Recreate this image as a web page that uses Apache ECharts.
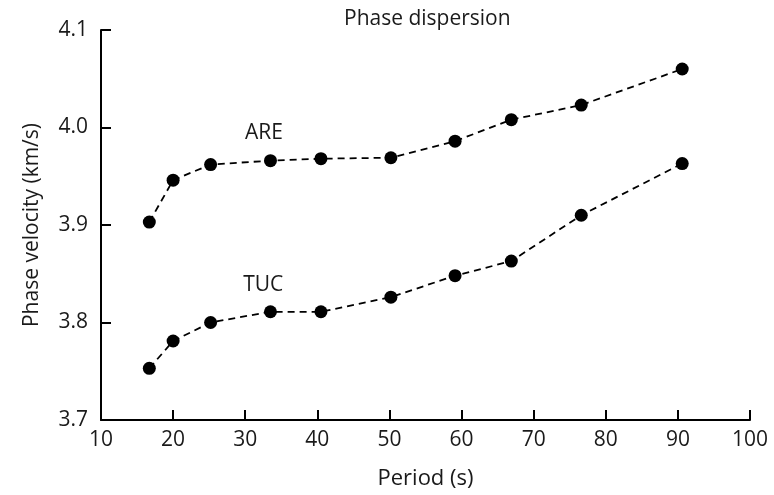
<!DOCTYPE html>
<html>
<head>
<meta charset="utf-8">
<script src="https://cdn.jsdelivr.net/npm/echarts@6/dist/echarts.min.js"></script>
<style>
  html, body { margin: 0; padding: 0; background: #fff; }
  #chart { width: 774px; height: 495px; }
</style>
</head>
<body>
<div id="chart"></div>
<script>
const periods = [16.7, 20.0, 25.2, 33.5, 40.5, 50.2, 59.1, 66.9, 76.6, 90.6];
const areVel = [3.903, 3.946, 3.962, 3.966, 3.968, 3.969, 3.986, 4.008, 4.023, 4.060];
const tucVel = [3.753, 3.781, 3.800, 3.811, 3.811, 3.826, 3.848, 3.863, 3.910, 3.963];
const areLabelAt = [32.6, 3.994];
const tucLabelAt = [32.5, 3.838];

const font = 'Open Sans';
const ink = '#1a1a1a';

function pairs(xs, ys) {
    return xs.map((x, i) => [x, ys[i]]);
}

function station(name, ys, labelAt) {
    return {
        name: name,
        type: 'line',
        data: pairs(periods, ys),
        symbol: 'circle',
        symbolSize: 13,
        itemStyle: { color: '#000' },
        lineStyle: { color: '#000', width: 1.8, type: [7, 5] },
        markPoint: {
            symbol: 'circle',
            symbolSize: 2,
            itemStyle: { color: 'rgba(0,0,0,0)' },
            data: [{ coord: labelAt, value: name }],
            label: {
                show: true,
                position: 'inside',
                formatter: name,
                fontFamily: font,
                fontSize: 21,
                color: ink
            }
        },
        animation: false
    };
}

const chart = echarts.init(document.getElementById('chart'));
chart.setOption({
    backgroundColor: '#fff',
    title: {
        text: 'Phase dispersion',
        left: 339,
        top: 4,
        textStyle: { fontFamily: font, fontSize: 21, fontWeight: 'normal', color: ink }
    },
    grid: { left: 101, right: 24, top: 30, bottom: 72 },
    xAxis: {
        type: 'value',
        min: 10,
        max: 100,
        interval: 10,
        name: 'Period (s)',
        nameLocation: 'middle',
        nameGap: 48,
        nameTextStyle: { fontFamily: font, fontSize: 22, color: ink },
        axisLine: { lineStyle: { color: '#000', width: 2 } },
        axisTick: { inside: true, length: 10, lineStyle: { color: '#000', width: 2 } },
        axisLabel: { fontFamily: font, fontSize: 21, color: ink, margin: 10 },
        splitLine: { show: false }
    },
    yAxis: {
        type: 'value',
        min: 3.7,
        max: 4.1,
        interval: 0.1,
        name: 'Phase velocity (km/s)',
        nameLocation: 'middle',
        nameGap: 58,
        nameTextStyle: { fontFamily: font, fontSize: 21, color: ink },
        axisLine: { show: true, lineStyle: { color: '#000', width: 2 } },
        axisTick: { show: true, inside: true, length: 10, lineStyle: { color: '#000', width: 2 } },
        axisLabel: {
            fontFamily: font, fontSize: 21, color: ink, margin: 13,
            formatter: v => v.toFixed(1)
        },
        splitLine: { show: false }
    },
    series: [
        station('ARE', areVel, areLabelAt),
        station('TUC', tucVel, tucLabelAt)
    ]
});
</script>
</body>
</html>
